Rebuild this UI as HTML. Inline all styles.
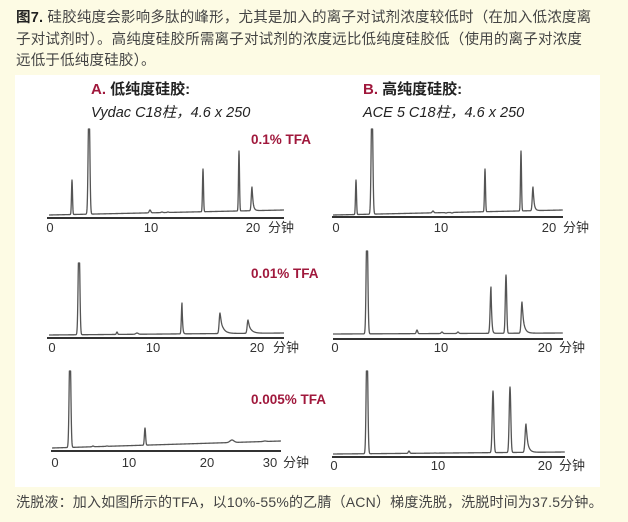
<!DOCTYPE html>
<html><head><meta charset="utf-8"><style>
html,body{margin:0;padding:0;background:#fdfbe4;}
body{width:628px;height:522px;position:relative;overflow:hidden;font-family:"Liberation Sans","Noto Sans CJK SC",sans-serif;}
.t{position:absolute;left:16px;font-size:14.5px;color:#444;white-space:nowrap;letter-spacing:0.2px}
svg{position:absolute;left:0;top:0}
</style></head><body>
<div class="t" style="top:6px"><b style="color:#222">图7.</b> 硅胶纯度会影响多肽的峰形，尤其是加入的离子对试剂浓度较低时（在加入低浓度离</div>
<div class="t" style="top:28px">子对试剂时）。高纯度硅胶所需离子对试剂的浓度远比低纯度硅胶低（使用的离子对浓度</div>
<div class="t" style="top:49px">远低于低纯度硅胶）。</div>
<div class="t" style="top:492px;left:16px;font-size:14px">洗脱液：加入如图所示的TFA，以10%-55%的乙腈（ACN）梯度洗脱，洗脱时间为37.5分钟。</div>
<svg id="s" width="628" height="522" xmlns="http://www.w3.org/2000/svg">
<rect x="15" y="75" width="585" height="412" fill="#fff"/>
<g font-family="Liberation Sans,Noto Sans CJK SC,sans-serif">
<text x="91" y="94" font-size="15" font-weight="bold" fill="#222"><tspan fill="#a0183c">A.</tspan> 低纯度硅胶:</text>
<text x="91" y="117" font-size="14.5" font-style="italic" fill="#222">Vydac C18柱，4.6 x 250</text>
<text x="363" y="94" font-size="15" font-weight="bold" fill="#222"><tspan fill="#a0183c">B.</tspan> 高纯度硅胶:</text>
<text x="363" y="117" font-size="14.5" font-style="italic" fill="#222">ACE 5 C18柱，4.6 x 250</text>
<g fill="#a0183c" font-weight="bold" font-size="13.5">
<text x="251" y="144">0.1% TFA</text>
<text x="251" y="278">0.01% TFA</text>
<text x="251" y="404">0.005% TFA</text>
</g>
<g fill="#333" font-size="13">
<text x="50" y="232" text-anchor="middle">0</text><text x="151" y="232" text-anchor="middle">10</text><text x="253" y="232" text-anchor="middle">20</text><text x="268" y="232">分钟</text>
<text x="52" y="352" text-anchor="middle">0</text><text x="153" y="352" text-anchor="middle">10</text><text x="257" y="352" text-anchor="middle">20</text><text x="273" y="352">分钟</text>
<text x="55" y="467" text-anchor="middle">0</text><text x="129" y="467" text-anchor="middle">10</text><text x="207" y="467" text-anchor="middle">20</text><text x="270" y="467" text-anchor="middle">30</text><text x="283" y="467">分钟</text>
<text x="336" y="232" text-anchor="middle">0</text><text x="441" y="232" text-anchor="middle">10</text><text x="549" y="232" text-anchor="middle">20</text><text x="563" y="232">分钟</text>
<text x="335" y="352" text-anchor="middle">0</text><text x="441" y="352" text-anchor="middle">10</text><text x="545" y="352" text-anchor="middle">20</text><text x="559" y="352">分钟</text>
<text x="334" y="470" text-anchor="middle">0</text><text x="438" y="470" text-anchor="middle">10</text><text x="545" y="470" text-anchor="middle">20</text><text x="559" y="470">分钟</text>
</g>
<g stroke="#333" stroke-width="2">
<line x1="47" y1="218" x2="284" y2="218"/><line x1="47" y1="338" x2="284" y2="338"/><line x1="51" y1="451" x2="281" y2="451"/>
<line x1="332" y1="217" x2="563" y2="217"/><line x1="333" y1="339" x2="563" y2="339"/><line x1="332" y1="457" x2="565" y2="457"/>
</g>
</g>
<g id="tr" fill="none" stroke="#555" stroke-width="1.3" stroke-linejoin="round"></g>
</svg>
<script>
var C=[
[49,284,215,210,[[72,180,.5,0],[89,129,.8,0,1],[150,210,.8,0],[162,212,.8,0],[168,212,.8,0],[203,169,.5,0],[239,151,.5,0],[252,187,.7,1.2]]],
[49,284,335,333,[[79,263,.8,0,1],[117,332,.6,0],[137,333,1.2,0],[182,303,.6,0.6],[220,313,.8,3],[248,320,.8,3]]],
[52,281,448,441,[[70,371,.8,0,1],[93,446,.8,0],[107,446,.8,0],[145,428,.6,0],[232,440,2,0],[265,441,1.5,0]]],
[333,563,215,210,[[356,180,.5,0],[372,129,.8,0,1],[433,211,.8,0],[446,213,.8,0],[452,213,.8,0],[485,169,.5,0],[521,151,.5,0],[533,187,.7,1.2]]],
[333,563,334,333,[[367,251,.8,0,1],[417,330,.7,0],[442,332,.8,0],[458,332,.8,0],[491,287,.8,.7],[506,275,.7,0],[522,302,.8,2]]],
[333,565,454,452,[[367,371,.8,0,1],[409,451,.7,0],[435,453,.7,0],[493,391,.8,0],[510,387,.8,0],[526,424,.9,2]]]
];
var g=document.getElementById('tr'),h='';
C.forEach(function(c){
 var d='',top=1e9;
 c[4].forEach(function(p){if(p[4])top=p[1];});
 for(var x=c[0];x<=c[1];x+=0.2){
  var b=c[2]+(c[3]-c[2])*(x-c[0])/(c[1]-c[0]),y=b;
  c[4].forEach(function(p){
   var H=b-p[1],dx=x-p[0],v;
   if(p[4]){H*=1.4;}
   if(p[3]>0&&dx>0){v=Math.exp(-dx/p[3])*0.8+0.2*Math.exp(-dx*dx/(2*p[2]*p[2]));}
   else v=Math.exp(-dx*dx/(2*p[2]*p[2]));
   y-=H*v;
  });
  if(top<1e9&&y<top)y=top;
  d+=(d?'L':'M')+x.toFixed(2)+','+y.toFixed(2);
 }
 h+='<path d="'+d+'"/>';
});
g.innerHTML=h;
</script>
</body></html>
